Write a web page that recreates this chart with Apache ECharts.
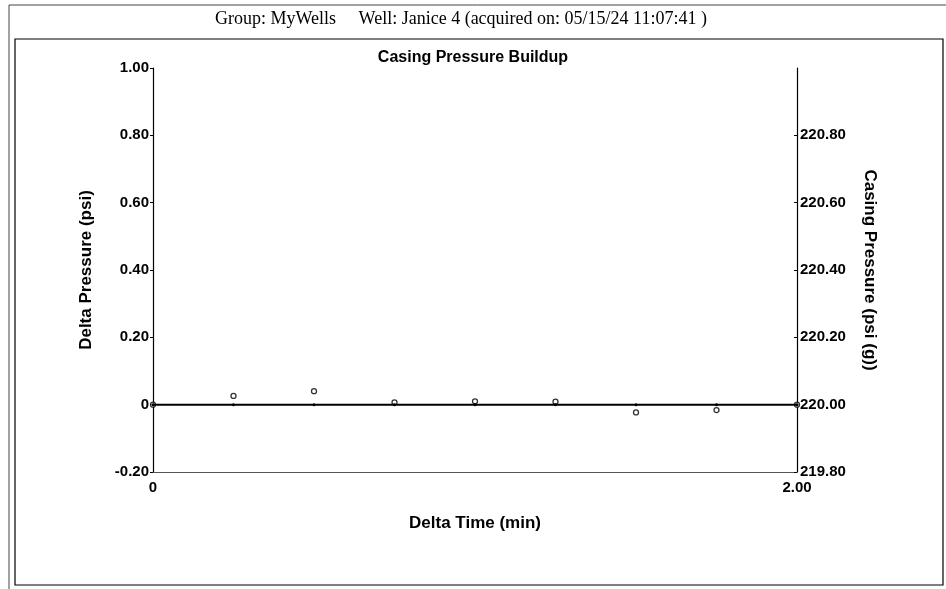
<!DOCTYPE html>
<html>
<head>
<meta charset="utf-8">
<script src="https://cdn.jsdelivr.net/npm/echarts@6/dist/echarts.min.js"></script>
<style>html,body{margin:0;padding:0;background:#fff;}#c{width:946px;height:589px;}</style>
</head>
<body>
<div id="c"></div>
<script>
var headerText = 'Group: MyWells     Well: Janice 4 (acquired on: 05/15/24 11:07:41 )';
var titleText = 'Casing Pressure Buildup';
var deltaTime = [0, 0.25, 0.5, 0.75, 1.0, 1.25, 1.5, 1.75, 2.0];
var deltaPressure = [0, 0.026, 0.04, 0.007, 0.01, 0.009, -0.023, -0.016, 0];
var casingPressure = [220.00, 220.00, 220.00, 220.00, 220.00, 220.00, 220.00, 220.00, 220.00];

var chart = echarts.init(document.getElementById('c'));
var lab = {color:'#000', fontFamily:'Liberation Sans, Arial', fontWeight:'bold', fontSize:15};
var nm = {color:'#000', fontFamily:'Liberation Sans, Arial', fontWeight:'bold', fontSize:17};
chart.setOption({
  animation:false,
  backgroundColor:'#fff',
  title:{text:titleText, left:468, top:45, textAlign:'center',
    textStyle:{fontFamily:'Liberation Sans, Arial', fontWeight:'bold', fontSize:16, color:'#000'}},
  grid:{left:153, right:149, top:68, bottom:117},
  xAxis:{type:'value', min:0, max:2, interval:2,
    name:'Delta Time (min)', nameLocation:'middle', nameGap:43,
    nameTextStyle:nm,
    axisLine:{show:true, onZero:false, lineStyle:{color:'#555', width:1}},
    axisTick:{show:false}, splitLine:{show:false},
    axisLabel:Object.assign({margin:8, formatter:function(v){return v===0?'0':v.toFixed(2);}}, lab)},
  yAxis:[{type:'value', min:-0.2, max:1.0, interval:0.2, position:'left',
    name:'Delta Pressure (psi)', nameLocation:'middle', nameGap:58,
    nameTextStyle:nm,
    axisLine:{show:true, lineStyle:{color:'#000', width:1.2}},
    axisTick:{show:true, length:3, inside:false, lineStyle:{color:'#000'}},
    splitLine:{show:false},
    axisLabel:Object.assign({margin:4, formatter:function(v){return Math.abs(v)<1e-9?'0':v.toFixed(2);}}, lab)},
   {type:'value', min:219.8, max:221.0, interval:0.2, position:'right',
    name:'Casing Pressure (psi (g))', nameLocation:'middle', nameGap:64, nameRotate:-90,
    nameTextStyle:nm,
    axisLine:{show:true, lineStyle:{color:'#000', width:1.2}},
    axisTick:{show:true, length:3, inside:true, lineStyle:{color:'#000'}},
    splitLine:{show:false},
    axisLabel:Object.assign({margin:3, showMaxLabel:false, formatter:function(v){return v.toFixed(2);}}, lab)}],
  graphic:[
    {type:'line', shape:{x1:9, y1:5, x2:946, y2:5}, style:{stroke:'#444', lineWidth:1}},
    {type:'line', shape:{x1:9, y1:5, x2:9, y2:589}, style:{stroke:'#444', lineWidth:1}},
    {type:'rect', shape:{x:15, y:39, width:928, height:546}, style:{fill:'none', stroke:'#000', lineWidth:1.2}},
    {type:'text', x:461, y:19, style:{text:headerText, fontFamily:'Liberation Serif, Times New Roman', fontSize:18, fill:'#000', textAlign:'center', textVerticalAlign:'middle'}}
  ],
  series:[
    {name:'Casing Pressure', type:'line', yAxisIndex:1,
     data:deltaTime.map(function(t,i){return [t, casingPressure[i]];}),
     symbol:'circle', symbolSize:3, lineStyle:{color:'#000', width:2}, itemStyle:{color:'#000'}},
    {name:'Delta Pressure', type:'scatter', yAxisIndex:0,
     data:deltaTime.map(function(t,i){return [t, deltaPressure[i]];}),
     symbol:'circle', symbolSize:5, itemStyle:{color:'#fff', borderColor:'#000', borderWidth:1.3}}
  ]
});
</script>
</body>
</html>
